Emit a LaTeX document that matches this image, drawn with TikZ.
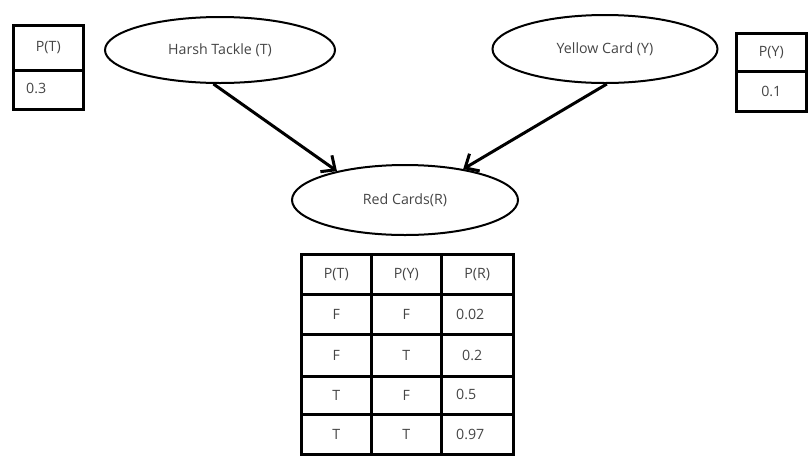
\documentclass[tikz,border=0pt]{standalone}
\usepackage{fontspec}
\setmainfont{Open Sans}
\usetikzlibrary{shapes.geometric,arrows.meta}
\definecolor{txt}{HTML}{454545}
\tikzset{
  every node/.style={text=txt,font=\fontsize{14.2}{16}\selectfont},
  oval/.style={ellipse,draw=black,line width=2pt,inner sep=0pt},
  cell/.style={draw=black,line width=2.6pt,minimum width=#1,minimum height=40pt,inner sep=0pt,anchor=north west},
  cell/.default=70pt,
  arr/.style={line width=3pt,-{Straight Barb[length=11pt,width=20pt,line width=3pt]}},
  lbl/.style={inner sep=0pt,draw=none}
}
\begin{document}
\begin{tikzpicture}[x=1pt,y=-1pt]
\useasboundingbox (0,0) rectangle (811,467);
% ellipses
\node[oval,minimum width=230pt,minimum height=66pt] (ht) at (220,50) {Harsh Tackle (T)};
\node[oval,minimum width=225pt,minimum height=68pt] (yc) at (605,49) {Yellow Card (Y)};
\node[oval,minimum width=226pt,minimum height=70pt] (rc) at (405,200) {Red Cards(R)};
% arrows
\draw[arr] (ht.-101) -- (rc.157);
\draw[arr] (yc.-87) -- (rc.28);
% P(T) box
\node[cell=70pt,minimum height=45pt] (pth) at (12,24) {P(T)};
\node[cell=70pt,minimum height=39pt] (ptv) at (12,69) {};
\node[lbl,anchor=west] (ptvt) at (26,88) {0.3};
% P(Y) box
\node[cell=70pt,minimum height=38pt] (pyh) at (735,32) {P(Y)};
\node[cell=70pt,minimum height=40pt] (pyv) at (735,70) {0.1};
% table
\node[cell=70pt] (h1) at (300,253) {P(T)};
\node[cell=70pt] (h2) at (370,253) {P(Y)};
\node[cell=72pt] (h3) at (440,253) {P(R)};
\node[cell=70pt] (a1) at (300,293) {F};
\node[cell=70pt] (a2) at (370,293) {F};
\node[cell=72pt] (a3) at (440,293) {};
\node[cell=70pt,minimum height=42pt] (b1) at (300,333) {F};
\node[cell=70pt,minimum height=42pt] (b2) at (370,333) {T};
\node[cell=72pt,minimum height=42pt] (b3) at (440,333) {};
\node[cell=70pt,minimum height=38pt] (c1) at (300,375) {T};
\node[cell=70pt,minimum height=38pt] (c2) at (370,375) {F};
\node[cell=72pt,minimum height=38pt] (c3) at (440,375) {};
\node[cell=70pt] (d1) at (300,413) {T};
\node[cell=70pt] (d2) at (370,413) {T};
\node[cell=72pt] (d3) at (440,413) {};
\node[lbl,anchor=west] (a3t) at (456,314) {0.02};
\node[lbl,anchor=west] (b3t) at (462,355) {0.2};
\node[lbl,anchor=west] (c3t) at (456,394) {0.5};
\node[lbl,anchor=west] (d3t) at (456,434) {0.97};
\end{tikzpicture}
\end{document}
